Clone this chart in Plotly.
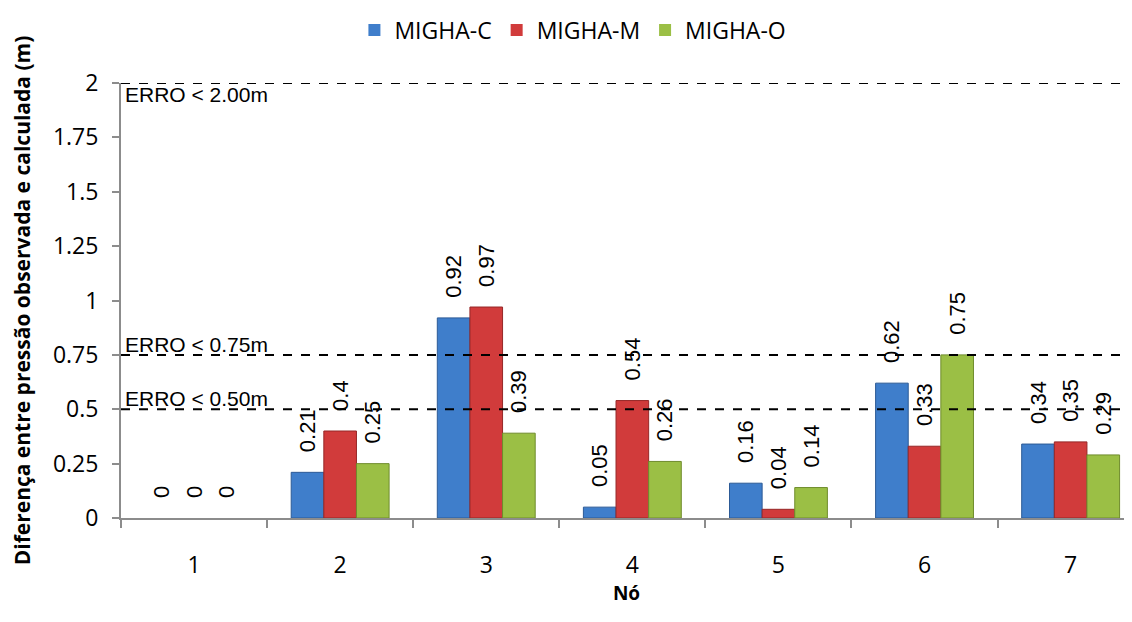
import plotly.graph_objects as go

nodes = [1, 2, 3, 4, 5, 6, 7]
node_labels = ["1", "2", "3", "4", "5", "6", "7"]
migha_c = [0, 0.21, 0.92, 0.05, 0.16, 0.62, 0.34]
migha_m = [0, 0.40, 0.97, 0.54, 0.04, 0.33, 0.35]
migha_o = [0, 0.25, 0.39, 0.26, 0.14, 0.75, 0.29]
series_names = ["MIGHA-C", "MIGHA-M", "MIGHA-O"]
error_limits = [2.0, 0.75, 0.5]
error_labels = ["ERRO < 2.00m", "ERRO < 0.75m", "ERRO < 0.50m"]
y_ticks = [0, 0.25, 0.5, 0.75, 1, 1.25, 1.5, 1.75, 2]
y_tick_labels = ["0", "0.25", "0.5", "0.75", "1", "1.25", "1.5", "1.75", "2"]

colors = ["#3F7ECB", "#D13B3B", "#9BBF45"]
edges = ["#2C5A96", "#962727", "#6F8C2C"]

fig = go.Figure()
for name, vals, c, e in zip(series_names, [migha_c, migha_m, migha_o], colors, edges):
    fig.add_trace(go.Bar(
        x=nodes, y=vals, name=name,
        marker=dict(color=c, line=dict(color=e, width=[0 if v == 0 else 1 for v in vals])),
        text=["\u2002\u00a0" + f"{v:g}" for v in vals],
        textposition="outside", textangle=-90, constraintext="none",
        textfont=dict(family="Liberation Sans, Arial", size=22, color="black"),
        cliponaxis=False,
    ))

shapes = []
annotations = []
for lim, lab in zip(error_limits, error_labels):
    shapes.append(dict(type="line", xref="paper", x0=0, x1=1, yref="y", y0=lim, y1=lim,
                       line=dict(color="black", width=2, dash="dash"), layer="above"))
    top = lim >= 2
    annotations.append(dict(xref="paper", x=0.002, yref="y", y=lim, text=lab, showarrow=False,
                            xanchor="left", yanchor="top" if top else "bottom",
                            yshift=2 if top else -3,
                            font=dict(family="Liberation Sans, Arial", size=21, color="black")))

fig.update_layout(
    width=1124, height=614,
    margin=dict(l=113, r=0, t=75, b=104, autoexpand=False),
    paper_bgcolor="white", plot_bgcolor="white",
    barmode="group", bargap=0.33, bargroupgap=0,
    shapes=shapes, annotations=annotations,
    legend=dict(orientation="h", x=0.447, xanchor="center", y=1.122, yanchor="middle",
                font=dict(family="Open Sans", size=23, color="black"),
                itemwidth=30, tracegroupgap=0),
    font=dict(family="Open Sans", color="black"),
)
fig.update_xaxes(
    range=[0.5, 7.42], tickvals=nodes, ticktext=node_labels, ticks="",
    tickfont=dict(family="Open Sans", size=23, color="black"),
    showline=True, linecolor="#8C8C8C", linewidth=2, showgrid=False, zeroline=False,
    minor=dict(tick0=0.5, dtick=1, ticks="outside", ticklen=8, tickcolor="#8C8C8C", tickwidth=2, showgrid=False),
    ticklabelstandoff=25, automargin=False,
    title=dict(text="<b>Nó</b>", font=dict(family="Open Sans", size=19, color="black"), standoff=0),
)
fig.update_yaxes(
    range=[0, 2], tickvals=y_ticks, ticktext=y_tick_labels,
    ticks="outside", ticklen=7, tickcolor="#8C8C8C", tickwidth=2,
    tickfont=dict(family="Open Sans", size=23, color="black"),
    showline=True, linecolor="#8C8C8C", linewidth=2, showgrid=False, zeroline=False,
    ticklabelstandoff=9, automargin=False,
    title=dict(text="<b>Diferença entre pressão observada e calculada (m)</b>",
               font=dict(family="Open Sans", size=21, color="black"), standoff=18),
)

fig.write_html("out.html")
